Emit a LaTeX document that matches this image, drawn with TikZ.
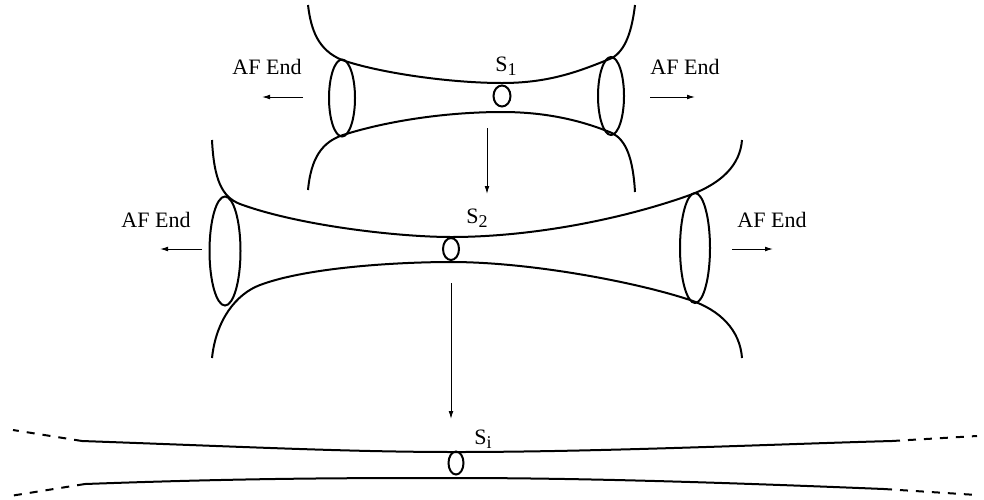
\documentclass[tikz,border=0pt]{standalone}
\usepackage{fontspec}
\setmainfont{Liberation Serif}
\usepackage{tikz}
\usetikzlibrary{shapes.geometric, arrows.meta}
\newcommand{\lowsub}[1]{\raisebox{-2pt}{\fontsize{9}{10}\selectfont #1}}

\begin{document}
\begin{tikzpicture}[x=0.5pt, y=-0.5pt,
          tube/.style={line width=1pt},
          rim/.style={draw, ellipse, line width=1pt, inner sep=0pt},
          lbl/.style={font=\fontsize{11}{13}\selectfont, inner sep=0pt},
          arr/.style={-{Latex[length=4pt, width=2.4pt]}, line width=0.5pt},
          ext/.style={line width=1pt, dash pattern=on 4pt off 4pt}
        ]
        \useasboundingbox (0,0) rectangle (984,499);

        % First surface S_1
        \draw[tube] (308,5) .. controls (311,30) and (318,50) .. (342,60)
              .. controls (380,73) and (450,83) .. (502,83)
              .. controls (550,83) and (580,71) .. (612,58)
              .. controls (626,50) and (632,30) .. (635,5);
        \draw[tube] (308,190) .. controls (311,158) and (322,142) .. (343,135)
              .. controls (390,120) and (450,112) .. (502,112)
              .. controls (550,112) and (585,122) .. (612,133)
              .. controls (626,140) and (633,158) .. (635,192);
        \node[rim, minimum width=13pt, minimum height=38.5pt] (rimL1) at (342,98) {};
        \node[rim, minimum width=13pt, minimum height=39pt]   (rimR1) at (611,96) {};
        \node[rim, minimum width=8.5pt, minimum height=10.5pt] (w1) at (502,96) {};
        \node[lbl] (s1) at (506,66) {S\lowsub{1}};

        \node[lbl] (afL1) at (267,67) {AF End};
        \node[lbl] (afR1) at (685,67) {AF End};
        \coordinate (aL1a) at (303,97); \coordinate (aL1b) at (262,97);
        \coordinate (aR1a) at (650,97); \coordinate (aR1b) at (695,97);
        \draw[arr] (aL1a) -- (aL1b);
        \draw[arr] (aR1a) -- (aR1b);

        % Second surface S_2
        \draw[tube] (212,140) .. controls (214,180) and (222,197) .. (240,204)
              .. controls (300,226) and (400,237) .. (451,237)
              .. controls (530,237) and (620,220) .. (690,195)
              .. controls (722,183) and (740,165) .. (742,140);
        \draw[tube] (212,358) .. controls (216,320) and (236,294) .. (260,285)
              .. controls (308,267) and (400,262) .. (451,262)
              .. controls (530,262) and (636,282) .. (690,300)
              .. controls (720,310) and (740,330) .. (742,358);
        \node[rim, minimum width=15.5pt, minimum height=54.5pt] (rimL2) at (225,251) {};
        \node[rim, minimum width=15pt, minimum height=55pt]     (rimR2) at (695,248) {};
        \node[rim, minimum width=8pt, minimum height=11pt] (w2) at (451,249) {};
        \node[lbl] (s2) at (477,218) {S\lowsub{2}};

        \node[lbl] (afL2) at (156,220) {AF End};
        \node[lbl] (afR2) at (772,220) {AF End};
        \coordinate (aL2a) at (202,249); \coordinate (aL2b) at (160,249);
        \coordinate (aR2a) at (732,249); \coordinate (aR2b) at (773,249);
        \draw[arr] (aL2a) -- (aL2b);
        \draw[arr] (aR2a) -- (aR2b);

        % Surface S_i
        \draw[tube] (82,441) .. controls (250,447) and (350,452) .. (456,452)
              .. controls (600,452) and (780,444) .. (892,441);
        \draw[tube] (85,484) .. controls (250,478) and (350,478) .. (456,478)
              .. controls (600,478) and (760,484) .. (884,489);
        \draw[ext] (82,441) -- (13,430);
        \draw[ext] (892,441) -- (977,436);
        \draw[ext] (85,484) -- (10,496);
        \draw[ext] (884,489) -- (977,495);
        \node[rim, minimum width=7.5pt, minimum height=11.5pt] (wi) at (456,463) {};
        \node[lbl] (si) at (483,439) {S\lowsub{i}};

        % Flow downwards
        \coordinate (d1a) at (487,128); \coordinate (d1b) at (487,194);
        \coordinate (d2a) at (451,283); \coordinate (d2b) at (451,419);
        \draw[arr] (d1a) -- (d1b);
        \draw[arr] (d2a) -- (d2b);
      \end{tikzpicture}
\end{document}
